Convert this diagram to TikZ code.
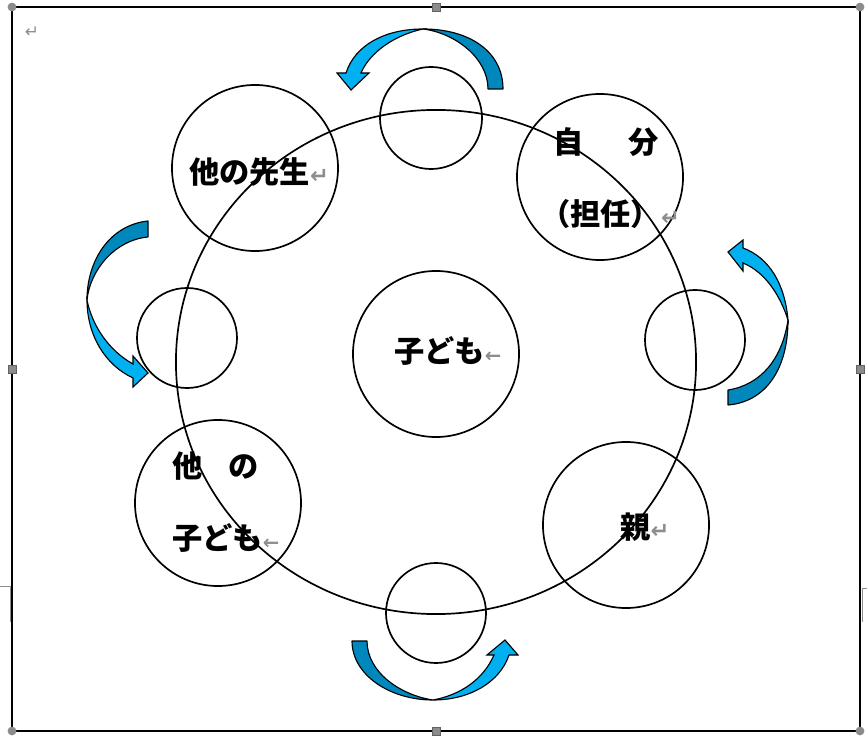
\documentclass[tikz,border=0pt]{standalone}
\usepackage{fontspec}
\usetikzlibrary{shapes.geometric}
\newfontfamily\jpfont{Noto Sans CJK JP}
\newfontfamily\retfont{DejaVu Sans}
\definecolor{arrowLight}{HTML}{00B0F0}
\definecolor{arrowDark}{HTML}{0088BC}
\definecolor{handleGray}{HTML}{8C8C8C}
\definecolor{markGray}{HTML}{8E8E8E}
\tikzset{
  ring/.style={circle, draw=black, line width=1.2pt, inner sep=0pt, minimum size=4.15cm},
  smallRing/.style={ring, minimum size=2.5cm},
  bigRing/.style={ellipse, draw=black, line width=1.2pt, inner sep=0pt,
                  minimum width=13cm, minimum height=12.6cm},
  labelJP/.style={font=\jpfont\bfseries\fontsize{21.5}{26}\selectfont, inner sep=0pt,
                  anchor=west, text=black},
  arrowBack/.style={fill=arrowDark, draw=black, line width=0.8pt, line join=round},
  arrowFront/.style={fill=arrowLight, draw=black, line width=0.8pt, line join=miter},
  handleDot/.style={circle, fill=handleGray, inner sep=0pt, minimum size=0.22cm},
  handleSq/.style={rectangle, fill=handleGray, draw=handleGray!70!black, line width=0.3pt,
                   inner sep=0pt, minimum size=0.2cm},
}
\newcommand{\ret}{{\retfont\fontsize{16}{16}\selectfont\color{markGray}↵}}
\newcommand{\retL}{{\retfont\fontsize{14}{14}\selectfont\color{markGray}←}}

\begin{document}
\begin{tikzpicture}[x=0.025cm, y=-0.025cm]
  \useasboundingbox (0,0) rectangle (867,740);
  \draw[line width=0.8pt] (12,7) rectangle (860,731);
  \draw[markGray, line width=0.6pt] (0,586) -- (10.5,586) -- (10.5,622);
  \draw[markGray, line width=0.6pt] (867,588) -- (862,588) -- (862,622);
  \node[font=\retfont\fontsize{12}{12}\selectfont, text=markGray] (topMark) at (32,32) {↵};

  \node[bigRing] (circleAll) at (436,362) {};
  \node[ring] (childRing) at (436,354) {};
  \node[ring] (teacherRing) at (255,168) {};
  \node[ring] (selfRing) at (600,177) {};
  \node[ring] (friendRing) at (218,503) {};
  \node[ring] (parentRing) at (626,525) {};
  \node[smallRing, minimum size=2.55cm] (linkTop) at (431,118) {};
  \node[smallRing] (linkLeft) at (187,338) {};
  \node[smallRing] (linkRight) at (695,340) {};
  \node[smallRing] (linkBottom) at (436,613) {};

  \node[labelJP] (teacherText) at (189,172) {他の先生\ret};
  \node[labelJP] (selfTextA) at (553,142) {自\hspace{1.5em}分};
  \node[labelJP] (selfTextB) at (540,214) {（担任）\ret};
  \node[labelJP] (childText) at (394,351) {子ども\retL};
  \node[labelJP] (friendTextA) at (172,466) {他\hspace{0.85em}の};
  \node[labelJP] (friendTextB) at (172,538) {子ども\retL};
  \node[labelJP] (parentText) at (620,527) {親\ret};

  \draw[arrowBack] (503,89) .. controls (503,52) and (470,29) .. (423,29)
    .. controls (455,33) and (488,58) .. (488,89) -- cycle;
  \draw[arrowFront] (423,29) .. controls (385,29) and (355,45) .. (346,73) -- (337,73)
    -- (351,90) -- (369,73) -- (361,73) .. controls (370,52) and (395,35) .. (423,29) -- cycle;

  \draw[arrowBack] (148,221) .. controls (110,225) and (87,260) .. (87,300)
    .. controls (90,270) and (115,240) .. (148,237) -- cycle;
  \draw[arrowFront] (87,300) .. controls (87,335) and (105,365) .. (133,378) -- (133,387)
    -- (148,373) -- (133,356) -- (133,364) .. controls (108,350) and (92,325) .. (87,300) -- cycle;

  \draw[arrowBack] (788,320) .. controls (788,370) and (765,402) .. (728,405) -- (728,390)
    .. controls (760,385) and (782,360) .. (788,320) -- cycle;
  \draw[arrowFront] (788,320) .. controls (785,285) and (770,258) .. (743,248) -- (743,240)
    -- (728,252) -- (743,271) -- (743,263) .. controls (765,272) and (780,295) .. (788,320) -- cycle;

  \draw[arrowBack] (352,641) .. controls (352,675) and (390,700) .. (433,700)
    .. controls (400,695) and (367,672) .. (367,641) -- cycle;
  \draw[arrowFront] (433,700) .. controls (470,700) and (500,682) .. (509,655) -- (518,655)
    -- (505,640) -- (487,655) -- (494,655) .. controls (483,680) and (460,695) .. (433,700) -- cycle;

  \node[handleDot] (cornerNW) at (12,7) {};
  \node[handleDot] (cornerNE) at (860,7) {};
  \node[handleDot] (cornerSW) at (12,731) {};
  \node[handleDot] (cornerSE) at (860,731) {};
  \node[handleSq] (midN) at (436,7) {};
  \node[handleSq] (midS) at (436,731) {};
  \node[handleSq] (midW) at (12,369) {};
  \node[handleSq] (midE) at (860,369) {};
\end{tikzpicture}
\end{document}
